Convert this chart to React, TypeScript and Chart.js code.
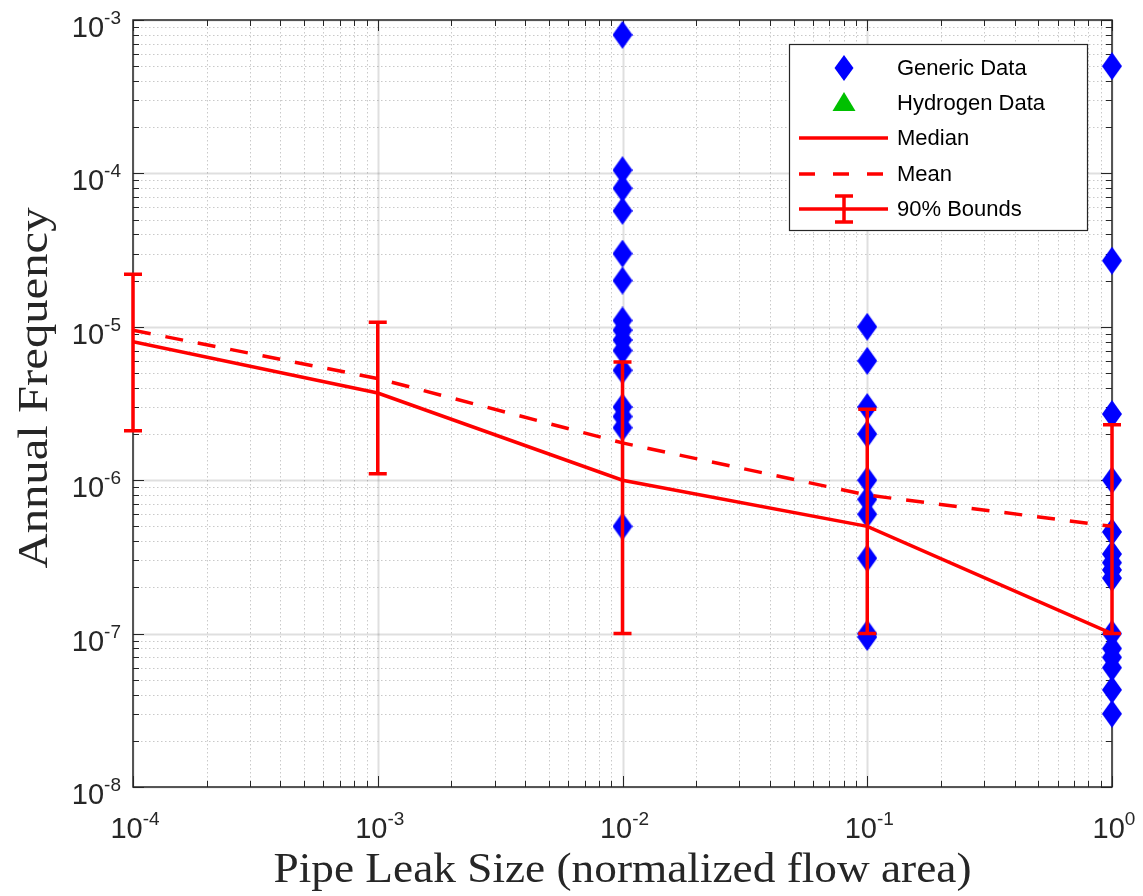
import React, { useEffect, useRef } from 'react';
import { Chart, registerables } from 'chart.js';

Chart.register(...registerables);

// ---------- DATA ----------
const leakSizes = [1e-4, 1e-3, 1e-2, 1e-1, 1];
const medianValues = [8e-6, 3.7e-6, 1e-6, 5e-7, 1e-7];
const meanValues = [9.5e-6, 4.6e-6, 1.75e-6, 8e-7, 5e-7];
const lowerBounds = [2.1e-6, 1.1e-6, 1e-7, 1e-7, 1e-7];
const upperBounds = [2.2e-5, 1.07e-5, 5.9e-6, 2.9e-6, 2.3e-6];

const genericAt1e2 = [8e-4, 1.05e-4, 8e-5, 5.7e-5, 3e-5, 2e-5, 1.1e-5, 9.5e-6, 8.2e-6, 7e-6, 5.2e-6, 3e-6, 2.6e-6, 2.2e-6, 5e-7];
const genericAt1e1 = [1e-5, 6e-6, 3e-6, 2e-6, 1e-6, 7.5e-7, 6e-7, 3.1e-7, 1e-7, 9.5e-8];
const genericAt1e0 = [5e-4, 2.7e-5, 2.7e-6, 1e-6, 4.6e-7, 3.3e-7, 2.9e-7, 2.6e-7, 2.3e-7, 1e-7, 8e-8, 7e-8, 6e-8, 4.3e-8, 3e-8];

const hydrogenX: number[] = [];
const hydrogenY: number[] = [];

const xTickExponents = [-4, -3, -2, -1, 0];
const yTickExponents = [-8, -7, -6, -5, -4, -3];
const legendLabels = ['Generic Data', 'Hydrogen Data', 'Median', 'Mean', '90% Bounds'];
const xTitle = 'Pipe Leak Size (normalized flow area)';
const yTitle = 'Annual Frequency';

const RED = '#ff0000';
const BLUE = '#0000ff';
const GREEN = '#00c000';
const AXIS = '#262626';
const SANS = '"Liberation Sans", Arial, Helvetica, sans-serif';
const SERIF = '"Liberation Serif", "Times New Roman", serif';

function makeDiamond(w: number, h: number, color: string) {
  const c = document.createElement('canvas');
  c.width = w;
  c.height = h;
  const g = c.getContext('2d')!;
  g.fillStyle = color;
  g.beginPath();
  g.moveTo(w / 2, 0);
  g.lineTo(w, h / 2);
  g.lineTo(w / 2, h);
  g.lineTo(0, h / 2);
  g.closePath();
  g.fill();
  return c;
}

function drawPow(ctx: CanvasRenderingContext2D, exp: number, x: number, baseY: number, align: 'right' | 'center') {
  const base = '10';
  const sup = String(exp);
  ctx.font = `29px ${SANS}`;
  const wb = ctx.measureText(base).width;
  ctx.font = `19px ${SANS}`;
  const ws = ctx.measureText(sup).width;
  const total = wb + ws;
  const x0 = align === 'right' ? x - total : x - total / 2;
  ctx.textAlign = 'left';
  ctx.textBaseline = 'alphabetic';
  ctx.font = `29px ${SANS}`;
  ctx.fillText(base, x0, baseY);
  ctx.font = `19px ${SANS}`;
  ctx.fillText(sup, x0 + wb, baseY - 13);
}

const axesPlugin = {
  id: 'matlabAxes',
  beforeDatasetsDraw(chart: any) {
    const { ctx, chartArea: a, scales } = chart;
    const xs = scales.x;
    const ys = scales.y;
    ctx.save();
    // grid
    for (let e = -8; e <= -3; e++) {
      for (let m = 1; m <= 9; m++) {
        const v = m * Math.pow(10, e);
        if (v > 1e-3 * 1.0001) continue;
        const y = Math.round(ys.getPixelForValue(v)) + 0.5;
        ctx.beginPath();
        if (m === 1) {
          ctx.setLineDash([]);
          ctx.strokeStyle = 'rgba(38,38,38,0.15)';
          ctx.lineWidth = 2;
        } else {
          ctx.setLineDash([1.5, 2.5]);
          ctx.strokeStyle = 'rgba(38,38,38,0.25)';
          ctx.lineWidth = 1;
        }
        ctx.moveTo(a.left, y);
        ctx.lineTo(a.right, y);
        ctx.stroke();
      }
    }
    for (let e = -4; e <= 0; e++) {
      for (let m = 1; m <= 9; m++) {
        const v = m * Math.pow(10, e);
        if (v > 1.0001) continue;
        const x = Math.round(xs.getPixelForValue(v)) + 0.5;
        ctx.beginPath();
        if (m === 1) {
          ctx.setLineDash([]);
          ctx.strokeStyle = 'rgba(38,38,38,0.15)';
          ctx.lineWidth = 2;
        } else {
          ctx.setLineDash([1.5, 2.5]);
          ctx.strokeStyle = 'rgba(38,38,38,0.25)';
          ctx.lineWidth = 1;
        }
        ctx.moveTo(x, a.top);
        ctx.lineTo(x, a.bottom);
        ctx.stroke();
      }
    }
    ctx.setLineDash([]);
    // ticks
    ctx.strokeStyle = AXIS;
    ctx.lineWidth = 1;
    for (let e = -8; e <= -3; e++) {
      for (let m = 1; m <= 9; m++) {
        const v = m * Math.pow(10, e);
        if (v > 1e-3 * 1.0001) continue;
        const y = Math.round(ys.getPixelForValue(v)) + 0.5;
        const len = m === 1 ? 11 : 6;
        ctx.beginPath();
        ctx.moveTo(a.left, y);
        ctx.lineTo(a.left + len, y);
        ctx.moveTo(a.right, y);
        ctx.lineTo(a.right - len, y);
        ctx.stroke();
      }
    }
    for (let e = -4; e <= 0; e++) {
      for (let m = 1; m <= 9; m++) {
        const v = m * Math.pow(10, e);
        if (v > 1.0001) continue;
        const x = Math.round(xs.getPixelForValue(v)) + 0.5;
        const len = m === 1 ? 11 : 6;
        ctx.beginPath();
        ctx.moveTo(x, a.bottom);
        ctx.lineTo(x, a.bottom - len);
        ctx.moveTo(x, a.top);
        ctx.lineTo(x, a.top + len);
        ctx.stroke();
      }
    }
    // box
    ctx.lineWidth = 1.5;
    ctx.strokeStyle = AXIS;
    ctx.strokeRect(a.left, a.top, a.right - a.left, a.bottom - a.top);
    ctx.restore();
  },
  afterDatasetsDraw(chart: any) {
    const { ctx, scales } = chart;
    const xs = scales.x;
    const ys = scales.y;
    ctx.save();
    // error bars
    ctx.strokeStyle = RED;
    ctx.lineWidth = 3.5;
    ctx.lineCap = 'butt';
    leakSizes.forEach((xv, i) => {
      const x = xs.getPixelForValue(xv);
      const yl = ys.getPixelForValue(lowerBounds[i]);
      const yu = ys.getPixelForValue(upperBounds[i]);
      ctx.beginPath();
      ctx.moveTo(x, yl);
      ctx.lineTo(x, yu);
      ctx.moveTo(x - 9, yl);
      ctx.lineTo(x + 9, yl);
      ctx.moveTo(x - 9, yu);
      ctx.lineTo(x + 9, yu);
      ctx.stroke();
    });
    // legend
    const bx = 789, by = 44, bw = 298, bh = 186;
    ctx.fillStyle = '#ffffff';
    ctx.fillRect(bx, by, bw, bh);
    ctx.strokeStyle = AXIS;
    ctx.lineWidth = 1.2;
    ctx.strokeRect(bx + 0.5, by + 0.5, bw, bh);
    const rowY = [68, 103, 138, 174, 209];
    const mx = 844;
    const l0 = 799, l1 = 888;
    // diamond
    ctx.fillStyle = BLUE;
    ctx.beginPath();
    ctx.moveTo(mx, rowY[0] - 13);
    ctx.lineTo(mx + 9.5, rowY[0]);
    ctx.lineTo(mx, rowY[0] + 13);
    ctx.lineTo(mx - 9.5, rowY[0]);
    ctx.closePath();
    ctx.fill();
    // triangle
    ctx.fillStyle = GREEN;
    ctx.beginPath();
    ctx.moveTo(mx, rowY[1] - 11);
    ctx.lineTo(mx + 11.5, rowY[1] + 8);
    ctx.lineTo(mx - 11.5, rowY[1] + 8);
    ctx.closePath();
    ctx.fill();
    // median
    ctx.strokeStyle = RED;
    ctx.lineWidth = 3.5;
    ctx.beginPath();
    ctx.moveTo(l0, rowY[2]);
    ctx.lineTo(l1, rowY[2]);
    ctx.stroke();
    // mean
    ctx.setLineDash([16, 18]);
    ctx.beginPath();
    ctx.moveTo(l0, rowY[3]);
    ctx.lineTo(l1, rowY[3]);
    ctx.stroke();
    ctx.setLineDash([]);
    // bounds
    ctx.beginPath();
    ctx.moveTo(l0, rowY[4]);
    ctx.lineTo(l1, rowY[4]);
    ctx.moveTo(mx, rowY[4] - 13);
    ctx.lineTo(mx, rowY[4] + 13);
    ctx.moveTo(mx - 9, rowY[4] - 13);
    ctx.lineTo(mx + 9, rowY[4] - 13);
    ctx.moveTo(mx - 9, rowY[4] + 13);
    ctx.lineTo(mx + 9, rowY[4] + 13);
    ctx.stroke();
    ctx.fillStyle = '#000000';
    ctx.font = `22px ${SANS}`;
    ctx.textAlign = 'left';
    ctx.textBaseline = 'middle';
    legendLabels.forEach((t, i) => ctx.fillText(t, 897, rowY[i] + 1));
    ctx.restore();
  },
  afterDraw(chart: any) {
    const { ctx, chartArea: a, scales } = chart;
    const xs = scales.x;
    const ys = scales.y;
    ctx.save();
    ctx.fillStyle = AXIS;
    yTickExponents.forEach((e) => {
      const y = ys.getPixelForValue(Math.pow(10, e));
      drawPow(ctx, e, a.left - 12, y + 17, 'right');
    });
    xTickExponents.forEach((e) => {
      const x = xs.getPixelForValue(Math.pow(10, e));
      drawPow(ctx, e, x + 2, a.bottom + 51, 'center');
    });
    // titles
    ctx.fillStyle = AXIS;
    ctx.font = `42px ${SERIF}`;
    ctx.textAlign = 'center';
    ctx.textBaseline = 'alphabetic';
    const wx = ctx.measureText(xTitle).width;
    ctx.save();
    ctx.translate((a.left + a.right) / 2, 882);
    ctx.scale(698 / wx, 1);
    ctx.fillText(xTitle, 0, 0);
    ctx.restore();
    const wy = ctx.measureText(yTitle).width;
    ctx.save();
    ctx.translate(47, 388);
    ctx.rotate(-Math.PI / 2);
    ctx.scale(361 / wy, 1);
    ctx.fillText(yTitle, 0, 0);
    ctx.restore();
    ctx.restore();
  },
};

export default function App() {
  const ref = useRef<HTMLCanvasElement | null>(null);
  useEffect(() => {
    document.body.style.margin = '0';
    const canvas = ref.current!;
    const diamond = makeDiamond(20, 28, BLUE);
    const genericPoints = [
      ...genericAt1e2.map((y) => ({ x: 1e-2, y })),
      ...genericAt1e1.map((y) => ({ x: 1e-1, y })),
      ...genericAt1e0.map((y) => ({ x: 1, y })),
    ];
    const chart = new Chart(canvas, {
      type: 'scatter',
      data: {
        datasets: [
          {
            type: 'line',
            label: 'Median',
            data: leakSizes.map((x, i) => ({ x, y: medianValues[i] })),
            borderColor: RED,
            borderWidth: 3.5,
            pointRadius: 0,
            fill: false,
            order: 1,
          } as any,
          {
            type: 'line',
            label: 'Mean',
            data: leakSizes.map((x, i) => ({ x, y: meanValues[i] })),
            borderColor: RED,
            borderWidth: 3.5,
            borderDash: [18, 15],
            pointRadius: 0,
            fill: false,
            order: 2,
          } as any,
          {
            label: 'Hydrogen Data',
            data: hydrogenX.map((x, i) => ({ x, y: hydrogenY[i] })),
            pointStyle: 'triangle',
            backgroundColor: GREEN,
            borderColor: GREEN,
            pointRadius: 10,
            order: 3,
            clip: false,
          } as any,
          {
            label: 'Generic Data',
            data: genericPoints,
            pointStyle: diamond,
            pointRadius: 10,
            backgroundColor: BLUE,
            borderColor: BLUE,
            order: 4,
            clip: false,
          } as any,
        ],
      },
      options: {
        responsive: false,
        animation: false,
        events: [],
        layout: { padding: { left: 133, top: 20, right: 31, bottom: 109 } },
        scales: {
          x: { type: 'logarithmic', min: 1e-4, max: 1, display: false },
          y: { type: 'logarithmic', min: 1e-8, max: 1e-3, display: false },
        },
        plugins: { legend: { display: false }, tooltip: { enabled: false } },
      },
      plugins: [axesPlugin],
    });
    return () => chart.destroy();
  }, []);
  return (
    <div style={{ width: 1143, height: 896, background: '#ffffff' }}>
      <canvas ref={ref} width={1143} height={896} style={{ display: 'block' }} />
    </div>
  );
}
